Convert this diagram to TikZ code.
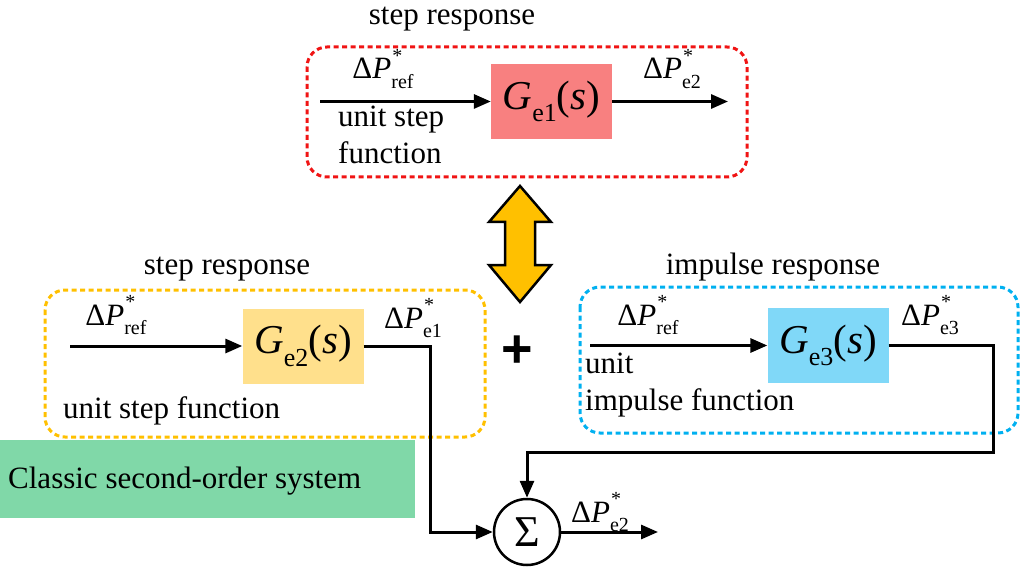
\documentclass[tikz,border=0pt]{standalone}
\usepackage{fontspec}
\setmainfont{Liberation Serif}
\setsansfont{Liberation Sans}
\usetikzlibrary{arrows.meta}

\definecolor{redline}{RGB}{240,20,20}
\definecolor{goldline}{RGB}{255,192,0}
\definecolor{blueline}{RGB}{0,176,240}
\definecolor{redfill}{RGB}{248,128,128}
\definecolor{goldfill}{RGB}{255,224,140}
\definecolor{bluefill}{RGB}{128,216,248}
\definecolor{greenfill}{RGB}{128,216,168}
\definecolor{arrowgold}{RGB}{255,192,0}

\newcommand{\txt}{\fontsize{31}{36}\selectfont}
\newcommand{\dP}[1]{Δ\textit{P}\rlap{\raisebox{0.52em}{\kern1pt\fontsize{20}{20}\selectfont *}}\raisebox{-0.32em}{\fontsize{20}{20}\selectfont #1}}
\newcommand{\Gs}[1]{\textit{G}\raisebox{-0.3em}{\fontsize{26}{26}\selectfont #1}(\textit{s})}

\tikzset{
  gbox/.style={inner sep=0pt, minimum width=121pt, minimum height=75pt, font=\fontsize{41}{44}\selectfont},
  group/.style={rounded corners=20pt, line width=3pt, dash pattern=on 5pt off 3.5pt},
  sig/.style={line width=3pt, -{Triangle[length=17pt,width=14pt]}},
  lab/.style={anchor=base, inner sep=0pt, font=\txt},
  note/.style={anchor=base west, inner sep=0pt, font=\txt}
}

\begin{document}
\begin{tikzpicture}[x=1pt,y=-1pt]
    \useasboundingbox (0,0) rectangle (1024,569);

    \draw[group, redline] (307,47) rectangle (747,177);
    \draw[group, goldline] (45,290) rectangle (485,437);
    \draw[group, blueline] (580,287) rectangle (1018,433);

    \node[lab] (t1) at (452,25) {step response};
    \node[lab] (t2) at (227,274) {step response};
    \node[lab] (t3) at (773,274) {impulse response};

    \node[gbox, fill=redfill] (g1) at (551.5,101.5) {\Gs{e1}};
    \node[gbox, fill=goldfill] (g2) at (303,346) {\Gs{e2}};
    \node[gbox, fill=bluefill] (g3) at (828,345.5) {\Gs{e3}};

    \coordinate (in1) at (320,101.5);
    \coordinate (out1) at (728,101.5);
    \coordinate (in2) at (70,346);
    \coordinate (in3) at (590,345.5);
    \coordinate (k2) at (430,346);
    \coordinate (k3) at (993,452);
    \coordinate (out4) at (658,532);

    \node[draw, circle, line width=2.5pt, minimum size=66pt, inner sep=0pt, font=\fontsize{44}{44}\selectfont] (sum) at (527,532) {Σ};

    \draw[sig] (in1) -- (g1);
    \draw[sig] (g1) -- (out1);
    \draw[sig] (in2) -- (g2);
    \draw[sig] (in3) -- (g3);
    \draw[sig] (g2.east) -| (k2 |- sum) -- (sum.west);
    \draw[sig] (g3.east) -| (k3) -| (sum.north);
    \draw[sig] (sum) -- (out4);

    \node[lab] (p1) at (383,79) {\dP{ref}};
    \node[lab] (p2) at (672,79) {\dP{e2}};
    \node[lab] (p3) at (116,325) {\dP{ref}};
    \node[lab] (p4) at (413,328) {\dP{e1}};
    \node[lab] (p5) at (648,325) {\dP{ref}};
    \node[lab] (p6) at (930,325) {\dP{e3}};
    \node[lab] (p7) at (600,522) {\dP{e2}};

    \node[note] (n1) at (338,127) {unit step};
    \node[note] (n2) at (338,164) {function};
    \node[note] (n3) at (63,418) {unit step function};
    \node[note] (n4) at (585,373) {unit};
    \node[note] (n5) at (585,410) {impulse function};

    \node[font=\fontsize{54}{54}\selectfont\sffamily\bfseries] (plus) at (517,352) {+};

    \filldraw[fill=arrowgold, line width=2.5pt, line join=miter]
      (520,186) -- (551,222) -- (535,222) -- (535,265) -- (551,265) -- (520,302)
      -- (489,265) -- (505,265) -- (505,222) -- (489,222) -- cycle;

    \fill[greenfill] (0,440) rectangle (415,518);
    \node[note] (cls) at (8,488) {Classic second-order system};
\end{tikzpicture}
\end{document}
